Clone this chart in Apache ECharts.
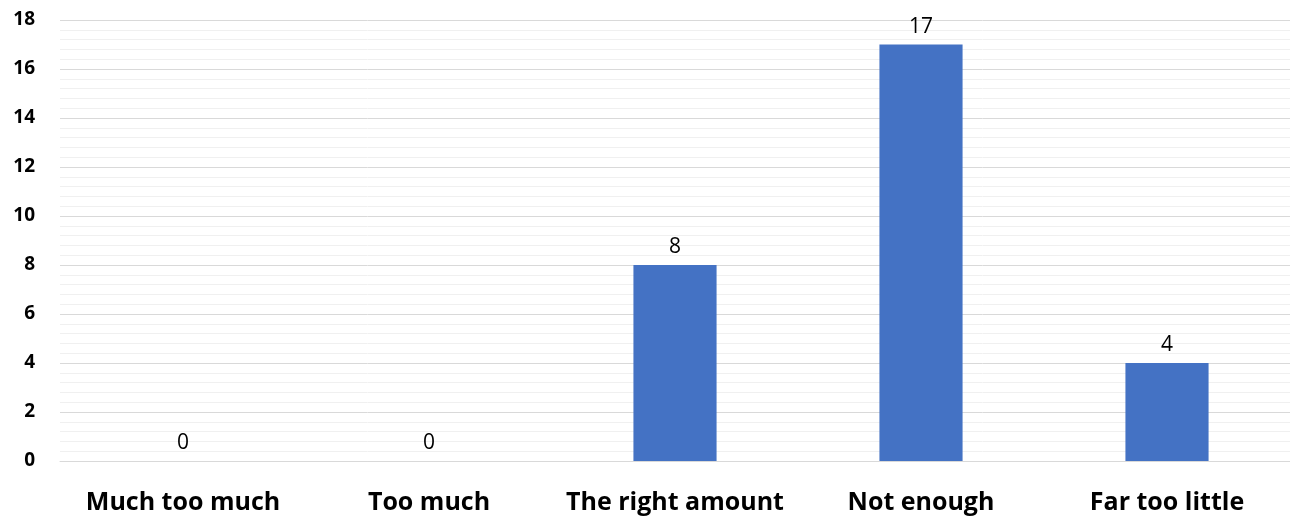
<!DOCTYPE html>
<html>
<head>
<meta charset="utf-8">
<script src="https://cdn.jsdelivr.net/npm/echarts@6/dist/echarts.min.js"></script>
<style>
  html, body { margin: 0; padding: 0; background: #ffffff; }
  #chart { width: 1290px; height: 518px; }
</style>
</head>
<body>
<div id="chart"></div>
<script>
// Responses per answer option
const categories = ['Much too much', 'Too much', 'The right amount', 'Not enough', 'Far too little'];
const counts = [0, 0, 8, 17, 4];
const yTicks = [0, 2, 4, 6, 8, 10, 12, 14, 16, 18];

const chart = echarts.init(document.getElementById('chart'), null, { renderer: 'canvas' });
chart.setOption({
  animation: false,
  grid: { left: 60, right: -5, top: 20, bottom: 57, containLabel: false },
  xAxis: {
    type: 'category',
    data: categories,
    axisLine: { show: true, lineStyle: { color: '#d9d9d9', width: 1 } },
    axisTick: { show: false },
    axisLabel: {
      interval: 0, hideOverlap: false,
      color: '#000000', fontFamily: 'Open Sans', fontWeight: 'bold', fontSize: 25, margin: 29
    }
  },
  yAxis: {
    type: 'value',
    min: yTicks[0],
    max: yTicks[yTicks.length - 1],
    interval: 2,
    axisLine: { show: false },
    axisTick: { show: false },
    axisLabel: {
      color: '#000000', fontFamily: 'Open Sans', fontWeight: 'bold', fontSize: 19, margin: 25
    },
    splitLine: { show: true, lineStyle: { color: '#d9d9d9', width: 1 } },
    minorTick: { show: false, splitNumber: 5 },
    minorSplitLine: { show: true, lineStyle: { color: '#f0f0f0', width: 1 } }
  },
  series: [{
    type: 'bar',
    data: counts,
    barWidth: '33.8%',
    itemStyle: { color: '#4472c4' },
    label: {
      show: true, position: 'top', distance: 7,
      color: '#000000', fontFamily: 'Open Sans', fontSize: 21
    }
  }]
});
</script>
</body>
</html>
